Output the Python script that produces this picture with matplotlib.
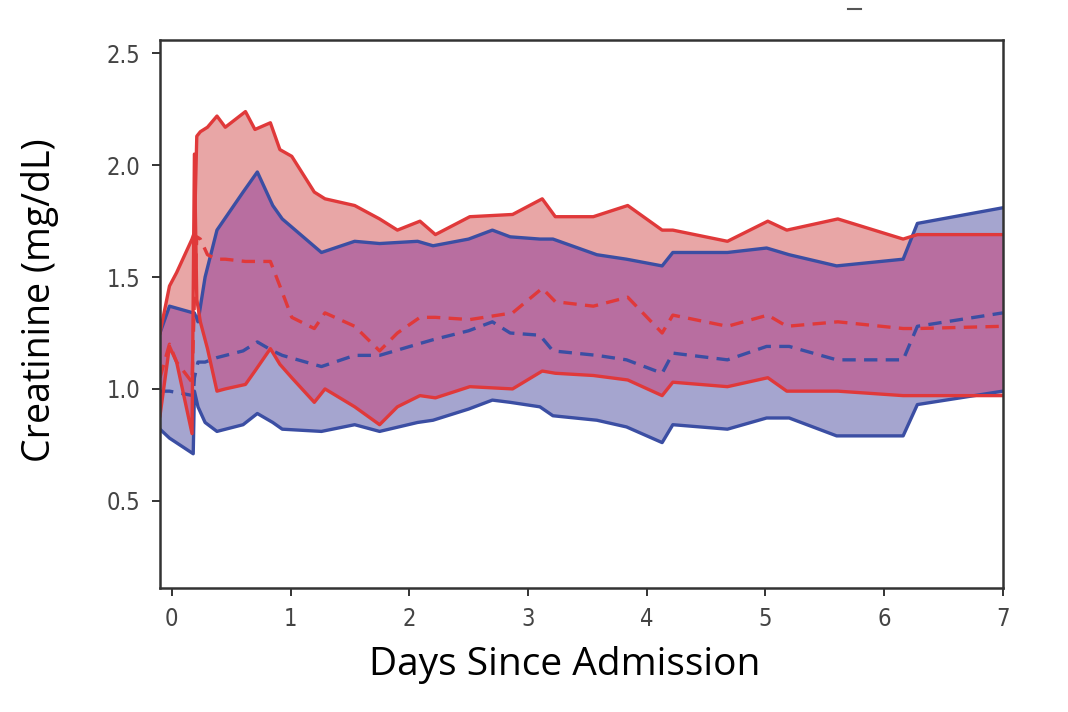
import matplotlib
matplotlib.use("Agg")
import matplotlib.pyplot as plt
from matplotlib.lines import Line2D
import numpy as np

# blue group (days, creatinine mg/dL)
x_blue = [-0.1, -0.02, 0.18, 0.19, 0.22, 0.28, 0.38, 0.60, 0.72, 0.85, 0.93, 1.26, 1.54, 1.75,
          2.07, 2.2, 2.5, 2.70, 2.85, 3.1, 3.21, 3.58, 3.83, 4.13, 4.22, 4.68, 5.01, 5.2, 5.6,
          6.16, 6.28, 7.0]
blue_hi = [1.25, 1.37, 1.34, 1.34, 1.30, 1.50, 1.71, 1.88, 1.97, 1.82, 1.76, 1.61, 1.66, 1.65,
           1.66, 1.64, 1.67, 1.71, 1.68, 1.67, 1.67, 1.60, 1.58, 1.55, 1.61, 1.61, 1.63, 1.60, 1.55,
           1.58, 1.74, 1.81]
blue_med = [0.99, 0.99, 0.97, 1.05, 1.12, 1.12, 1.14, 1.17, 1.21, 1.17, 1.15, 1.10, 1.15, 1.15,
            1.20, 1.22, 1.26, 1.30, 1.25, 1.24, 1.17, 1.15, 1.13, 1.07, 1.16, 1.13, 1.19, 1.19, 1.13,
            1.13, 1.28, 1.34]
blue_lo = [0.82, 0.78, 0.71, 0.99, 0.92, 0.85, 0.81, 0.84, 0.89, 0.85, 0.82, 0.81, 0.84, 0.81,
           0.85, 0.86, 0.91, 0.95, 0.94, 0.92, 0.88, 0.86, 0.83, 0.76, 0.84, 0.82, 0.87, 0.87, 0.79,
           0.79, 0.93, 0.99]

# red group
x_red = [-0.1, -0.02, 0.04, 0.17, 0.19, 0.21, 0.24, 0.30, 0.38, 0.45, 0.62, 0.70, 0.83, 0.91,
         1.01, 1.20, 1.29, 1.54, 1.75, 1.90, 2.09, 2.22, 2.51, 2.87, 3.12, 3.23, 3.55, 3.84, 4.13,
         4.22, 4.68, 5.02, 5.18, 5.61, 6.16, 6.28, 7.0]
red_hi = [1.25, 1.46, 1.52, 1.67, 1.70, 2.13, 2.15, 2.17, 2.22, 2.17, 2.24, 2.16, 2.19, 2.07,
          2.04, 1.88, 1.85, 1.82, 1.76, 1.71, 1.75, 1.69, 1.77, 1.78, 1.85, 1.77, 1.77, 1.82, 1.71,
          1.71, 1.66, 1.75, 1.71, 1.76, 1.67, 1.69, 1.69]
red_med = [1.05, 1.20, 1.12, 1.03, 1.40, 1.68, 1.67, 1.60, 1.58, 1.58, 1.57, 1.57, 1.57, 1.46,
           1.32, 1.27, 1.34, 1.28, 1.17, 1.25, 1.32, 1.32, 1.31, 1.34, 1.45, 1.39, 1.37, 1.41, 1.25,
           1.33, 1.28, 1.33, 1.28, 1.30, 1.27, 1.27, 1.28]
red_lo = [0.88, 1.19, 1.12, 0.80, 2.05, 1.40, 1.30, 1.18, 0.99, 1.00, 1.02, 1.08, 1.18, 1.11,
          1.05, 0.94, 1.00, 0.92, 0.84, 0.92, 0.97, 0.96, 1.01, 1.00, 1.08, 1.07, 1.06, 1.04, 0.97,
          1.03, 1.01, 1.05, 0.99, 0.99, 0.97, 0.97, 0.97]

blue = "#3b4ea3"
red = "#e0393a"

fig = plt.figure(figsize=(10.68, 7.12), dpi=100)
ax = fig.add_axes([0.1498, 0.1742, 0.7892, 0.7696])

# bands: blue, red, and the overlap in its own colour
ax.fill_between(x_blue, blue_lo, blue_hi, color="#a5a5cf", lw=0)
ax.fill_between(x_red, red_lo, red_hi, color="#e8a6a6", lw=0)
xx = np.union1d(np.union1d(x_blue, x_red), np.linspace(-0.1, 7.0, 1500))
top = np.minimum(np.interp(xx, x_blue, blue_hi), np.interp(xx, x_red, red_hi))
bot = np.maximum(np.interp(xx, x_blue, blue_lo), np.interp(xx, x_red, red_lo))
ax.fill_between(xx, bot, top, where=top > bot, color="#b86ea0", lw=0)

ax.plot(x_blue, blue_hi, color=blue, lw=2.4)
ax.plot(x_blue, blue_lo, color=blue, lw=2.4)
ax.plot(x_blue, blue_med, color=blue, lw=2.4, ls=(0, (4, 2.5)))
ax.plot(x_red, red_hi, color=red, lw=2.4)
ax.plot(x_red, red_lo, color=red, lw=2.4)
ax.plot(x_red, red_med, color=red, lw=2.4, ls=(0, (4, 2.5)))

ax.set_xlim(-0.1, 7.0)
ax.set_ylim(0.11, 2.56)
ax.set_xticks(range(0, 8))
ax.set_yticks([0.5, 1.0, 1.5, 2.0, 2.5])
ax.tick_params(colors="#333333", length=6, width=1.4)
ax.tick_params(axis="x", pad=8)
ax.tick_params(axis="y", pad=8)
for lab in ax.get_xticklabels() + ax.get_yticklabels():
    lab.set_fontsize(17)
    lab.set_fontstretch("condensed")
    lab.set_color("#444444")
for s in ax.spines.values():
    s.set_color("#333333")
    s.set_linewidth(1.8)

ax.set_xlabel("Days Since Admission", fontsize=28, family="Open Sans")
ax.xaxis.set_label_coords((565 - 160) / 843, -0.105)
ax.set_ylabel("Creatinine (mg/dL)", fontsize=27, family="Open Sans")
ax.yaxis.set_label_coords(-0.12, 0.525)

# small stray mark at the top of the image
fig.add_artist(Line2D([848 / 1068, 861 / 1068], [1 - 9 / 712, 1 - 9 / 712],
                      color="#555555", lw=1.5))

fig.savefig("out.png", dpi=100)
